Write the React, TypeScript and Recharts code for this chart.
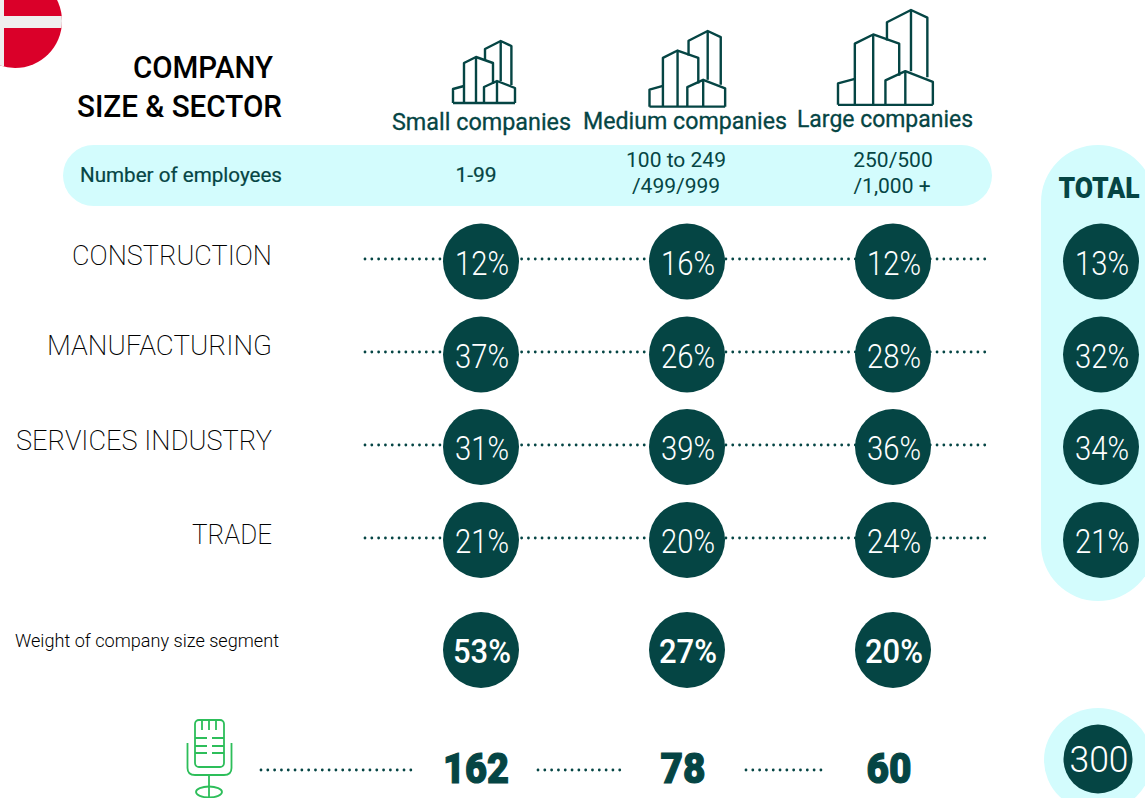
import { ScatterChart, Scatter, XAxis, YAxis, ReferenceLine } from 'recharts';

const WIDTH = 1145;
const HEIGHT = 798;
const DARK = '#054544';
const LIGHT = '#d3fcfd';
const GREEN = '#2dbe5a';
const FONT = 'Roboto, sans-serif';

// Values
const sectors = ['CONSTRUCTION', 'MANUFACTURING', 'SERVICES INDUSTRY', 'TRADE'];
const sizes = ['Small companies', 'Medium companies', 'Large companies'];
const small = [12, 37, 31, 21];
const medium = [16, 26, 39, 20];
const large = [12, 28, 36, 24];
const total = [13, 32, 34, 21];
const weight = [53, 27, 20];
const counts = [162, 78, 60];
const totalCount = 300;

// Layout of the table, in page pixels
const COL_X = [481, 687, 893, 1101];
const ROW_Y = [261.5, 354.5, 447, 540];
const WEIGHT_Y = 650;
const COUNT_Y = 768;
const COUNT_X = [476, 683, 889];
const DOT_Y = [259, 352, 445, 538];
const SECTOR_BASE = [265, 355, 450, 544];
const SECTOR_W = [200, 225, 256, 80];
const SIZE_POS = [
  { x: 392, y: 130, w: 179 },
  { x: 583, y: 129, w: 204 },
  { x: 797, y: 127, w: 176 },
];
const COUNT_DOTS = [
  [261, 415],
  [538, 625],
  [746, 826],
];

const pct = (values: number[], col: number) =>
  values.map((v, i) => ({ x: COL_X[col], y: ROW_Y[i], label: `${v}%` }));

const BubbleShape = ({ cx, cy, payload, radius = 38, textWeight = 300, textSize = 34, textWidth = 54 }: any) => (
  <g>
    <circle cx={cx} cy={cy} r={radius} fill={DARK} />
    <text
      x={cx + 1}
      y={cy + 13}
      textAnchor="middle"
      fontFamily={FONT}
      fontSize={textSize}
      fontWeight={textWeight}
      fill="#fff"
      textLength={textWidth}
      lengthAdjust="spacingAndGlyphs"
    >
      {payload.label}
    </text>
  </g>
);

const CountShape = ({ cx, cy, payload }: any) => (
  <text
    x={cx}
    y={cy + 15}
    textAnchor="middle"
    fontFamily={FONT}
    fontSize={43}
    fontWeight={900}
    fill={DARK}
    stroke={DARK}
    strokeWidth={1.2}
    textLength={String(payload.label).length === 3 ? 66 : 45}
    lengthAdjust="spacingAndGlyphs"
  >
    {payload.label}
  </text>
);

const Building = ({ x, y, scale }: { x: number; y: number; scale: number }) => (
  <g transform={`translate(${x} ${y}) scale(${scale})`} fill="none" stroke={DARK} strokeWidth={2.4} strokeLinejoin="round">
    {[
      'M0 62H62',
      'M0 62V48L11 45',
      'M11 62V22L23 16L40 22V43',
      'M23 16V62',
      'M32 20V8L47.7 0L58.4 5V44',
      'M47.7 0V40',
      'M31 62V46L44 40L62 47V62',
      'M44 40V62',
    ].map((d) => (
      <path key={d} d={d} vectorEffect="non-scaling-stroke" />
    ))}
  </g>
);

const Microphone = () => (
  <g fill="none" stroke={GREEN} strokeWidth={1.8}>
    <rect x={195} y={720} width={29} height={47} rx={4} />
    <path d="M202 720V730M209 720V730M216 720V730" />
    <path d="M195 738H207M212 738H224M195 746H207M212 746H224M195 753H207M212 753H224" />
    <path d="M187.5 743V768Q187.5 775 195 775H224Q231.5 775 231.5 768V743" />
    <path d="M209 775V797" />
    <ellipse cx={209} cy={792} rx={13} ry={5.5} />
  </g>
);

const Flag = () => (
  <g>
    <clipPath id="flag-clip">
      <circle cx={15} cy={21} r={47} />
    </clipPath>
    <g clipPath="url(#flag-clip)">
      <rect x={0} y={0} width={70} height={70} fill="#da0029" />
      <rect x={0} y={16} width={70} height={12} fill="#efefef" />
      <rect x={0} y={0} width={4} height={70} fill="#efefef" />
    </g>
  </g>
);

const dotStyle = {
  stroke: DARK,
  strokeWidth: 2.8,
  strokeDasharray: '0.01 6.8',
  strokeLinecap: 'round' as const,
};

export default function App() {
  return (
    <div style={{ position: 'absolute', left: 0, top: 0, width: WIDTH, height: HEIGHT, background: '#fff' }}>
      <ScatterChart width={WIDTH} height={HEIGHT} margin={{ top: 0, right: 0, bottom: 0, left: 0 }}>
        <XAxis type="number" dataKey="x" domain={[0, WIDTH]} hide />
        <YAxis type="number" dataKey="y" domain={[0, HEIGHT]} reversed hide />

        <rect x={63} y={145} width={929} height={61} rx={30.5} fill={LIGHT} />
        <rect x={1041} y={145} width={114} height={456} rx={57} fill={LIGHT} />
        <ellipse cx={1098} cy={760} rx={54} ry={52} fill={LIGHT} />
        <Flag />

        <text x={273} y={78} textAnchor="end" fontFamily={FONT} fontSize={31} fontWeight={500} fill="#000" textLength={140} lengthAdjust="spacingAndGlyphs">
          COMPANY
        </text>
        <text x={282} y={117} textAnchor="end" fontFamily={FONT} fontSize={31} fontWeight={500} fill="#000" textLength={205} lengthAdjust="spacingAndGlyphs">
          SIZE &amp; SECTOR
        </text>

        <Building x={453} y={41} scale={1} />
        <Building x={649.5} y={31} scale={1.22} />
        <Building x={838} y={10} scale={1.53} />

        {sizes.map((s, i) => (
          <text key={s} x={SIZE_POS[i].x} y={SIZE_POS[i].y} fontFamily={FONT} fontSize={24} fill={DARK} stroke={DARK} strokeWidth={0.3} textLength={SIZE_POS[i].w} lengthAdjust="spacingAndGlyphs">
            {s}
          </text>
        ))}

        <text x={80} y={182} fontFamily={FONT} fontSize={21} fill={DARK} stroke={DARK} strokeWidth={0.2} textLength={202} lengthAdjust="spacingAndGlyphs">
          Number of employees
        </text>
        <text x={476} y={182} textAnchor="middle" fontFamily={FONT} fontSize={21} fill={DARK} stroke={DARK} strokeWidth={0.2}>
          1-99
        </text>
        <text x={676} y={167} textAnchor="middle" fontFamily={FONT} fontSize={21} fill={DARK}>
          100 to 249
        </text>
        <text x={676} y={193} textAnchor="middle" fontFamily={FONT} fontSize={21} fill={DARK}>
          /499/999
        </text>
        <text x={893} y={167} textAnchor="middle" fontFamily={FONT} fontSize={21} fill={DARK}>
          250/500
        </text>
        <text x={892} y={193} textAnchor="middle" fontFamily={FONT} fontSize={21} fill={DARK}>
          /1,000 +
        </text>
        <text x={1099} y={198} textAnchor="middle" fontFamily={FONT} fontSize={29} fontWeight={900} fill={DARK} textLength={81} lengthAdjust="spacingAndGlyphs">
          TOTAL
        </text>

        {sectors.map((s, i) => (
          <text key={s} x={272} y={SECTOR_BASE[i]} textAnchor="end" fontFamily={FONT} fontSize={28} fontWeight={200} fill="#000" textLength={SECTOR_W[i]} lengthAdjust="spacingAndGlyphs">
            {s}
          </text>
        ))}
        <text x={15} y={647} fontFamily={FONT} fontSize={19} fontWeight={300} fill="#000" textLength={264} lengthAdjust="spacingAndGlyphs">
          Weight of company size segment
        </text>

        {DOT_Y.map((y) => (
          <ReferenceLine key={y} segment={[{ x: 365, y }, { x: 985, y }]} {...dotStyle} />
        ))}
        {COUNT_DOTS.map(([a, b]) => (
          <ReferenceLine key={a} segment={[{ x: a, y: 770 }, { x: b, y: 770 }]} {...dotStyle} />
        ))}

        <Microphone />

        <Scatter name={sizes[0]} data={pct(small, 0)} isAnimationActive={false} shape={<BubbleShape />} />
        <Scatter name={sizes[1]} data={pct(medium, 1)} isAnimationActive={false} shape={<BubbleShape />} />
        <Scatter name={sizes[2]} data={pct(large, 2)} isAnimationActive={false} shape={<BubbleShape />} />
        <Scatter name="TOTAL" data={pct(total, 3)} isAnimationActive={false} shape={<BubbleShape />} />
        <Scatter
          name="Weight"
          data={weight.map((v, i) => ({ x: COL_X[i], y: WEIGHT_Y, label: `${v}%` }))}
          isAnimationActive={false}
          shape={<BubbleShape textWeight={500} textWidth={58} />}
        />
        <Scatter
          name="Interviews"
          data={counts.map((v, i) => ({ x: COUNT_X[i], y: COUNT_Y, label: v }))}
          isAnimationActive={false}
          shape={<CountShape />}
        />
        <Scatter
          name="Total interviews"
          data={[{ x: 1098, y: 759, label: totalCount }]}
          isAnimationActive={false}
          shape={<BubbleShape radius={34.5} textSize={37} textWidth={59} />}
        />
      </ScatterChart>
    </div>
  );
}
